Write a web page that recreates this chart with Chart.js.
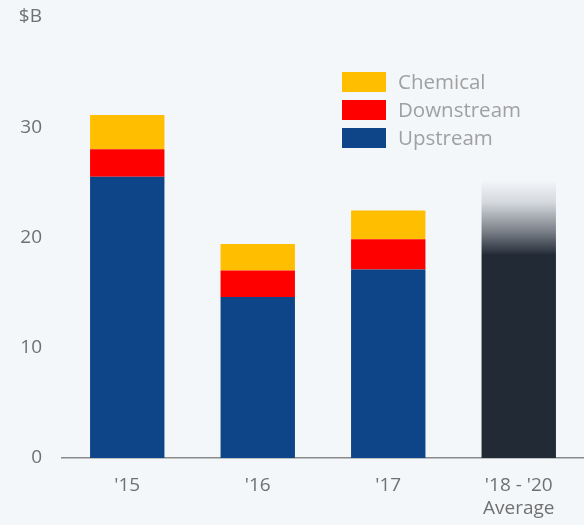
<!DOCTYPE html>
<html>
<head>
<meta charset="utf-8">
<script src="https://cdn.jsdelivr.net/npm/chart.js@4/dist/chart.umd.min.js"></script>
<style>
  html, body { margin: 0; padding: 0; background: #f4f7fa; }
  #wrap { width: 584px; height: 525px; }
</style>
</head>
<body>
<div id="wrap"><canvas id="capex"></canvas></div>
<script>
// categories and values ($B)
const years = [["'15"], ["'16"], ["'17"], ["'18 - '20", "Average"]];
const upstream = [25.5, 14.6, 17.1, null];
const downstream = [2.5, 2.4, 2.75, null];
const chemical = [3.1, 2.4, 2.6, null];
const average = [null, null, null, 18.5];
const averageFade = [null, null, null, 6.7];
const yTicks = [0, 10, 20, 30];

const blue = '#0e4488';
const red = '#ff0000';
const yellow = '#ffbf00';
const dark = '#222a36';
const font = '"Open Sans", sans-serif';

// legend drawn inside the plot, top right
const boxLegend = {
  id: 'boxLegend',
  afterDraw(chart) {
    const ctx = chart.ctx;
    const items = [
      { text: 'Chemical', color: yellow },
      { text: 'Downstream', color: red },
      { text: 'Upstream', color: blue }
    ];
    ctx.save();
    ctx.font = '20.5px ' + font;
    ctx.textBaseline = 'middle';
    items.forEach((it, i) => {
      const y = 72 + i * 28;
      ctx.fillStyle = it.color;
      ctx.fillRect(342, y, 44, 20);
      ctx.fillStyle = '#a0a0a0';
      ctx.fillText(it.text, 398, y + 11);
    });
    ctx.restore();
  }
};

function fadeFill(context) {
  const chart = context.chart;
  const y = chart.scales.y;
  if (!y || !chart.chartArea) return dark;
  const g = chart.ctx.createLinearGradient(0, y.getPixelForValue(18.5) + 1, 0, y.getPixelForValue(25.2));
  g.addColorStop(0, 'rgba(34,42,54,1)');
  g.addColorStop(0.3, 'rgba(34,42,54,0.6)');
  g.addColorStop(0.7, 'rgba(34,42,54,0.15)');
  g.addColorStop(1, 'rgba(34,42,54,0)');
  return g;
}

new Chart(document.getElementById('capex'), {
  type: 'bar',
  data: {
    labels: years,
    datasets: [
      { label: 'Upstream', data: upstream, backgroundColor: blue },
      { label: 'Downstream', data: downstream, backgroundColor: red },
      { label: 'Chemical', data: chemical, backgroundColor: yellow },
      { label: 'Average', data: average, backgroundColor: dark },
      { label: 'Fade', data: averageFade, backgroundColor: fadeFill }
    ]
  },
  options: {
    responsive: true,
    maintainAspectRatio: false,
    animation: false,
    layout: { padding: { left: 0, right: 0, top: 17, bottom: 0 } },
    datasets: { bar: { categoryPercentage: 1, barPercentage: 0.57, borderWidth: 0 } },
    plugins: {
      legend: { display: false },
      tooltip: { enabled: false }
    },
    scales: {
      x: {
        stacked: true,
        afterFit: (axis) => { axis.height = 67; },
        grid: { display: false, drawTicks: false },
        border: { display: true, color: '#8a8a8a', width: 1.5 },
        ticks: {
          color: '#707070',
          padding: 16,
          font: { family: font, size: 19, lineHeight: 1.2 },
          maxRotation: 0
        }
      },
      y: {
        stacked: true,
        min: 0,
        max: 40,
        afterFit: (axis) => { axis.width = 62; },
        afterBuildTicks: (axis) => {
          axis.ticks = yTicks.concat([40]).map(v => ({ value: v }));
        },
        // tick marks are not drawn, their length only spaces the labels
        grid: { display: false, drawTicks: true, tickLength: 20 },
        border: { display: false },
        ticks: {
          color: '#707070',
          padding: 0,
          font: { family: font, size: 19 },
          callback: (v) => v === 40 ? '$B' : v
        }
      }
    }
  },
  plugins: [boxLegend]
});
</script>
</body>
</html>
